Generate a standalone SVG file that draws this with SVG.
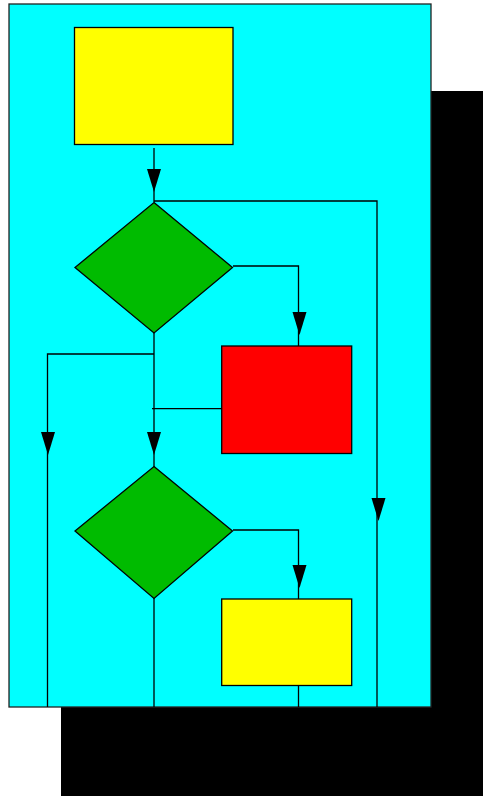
<svg xmlns="http://www.w3.org/2000/svg" xmlns:xlink="http://www.w3.org/1999/xlink" width="483" height="796" viewBox="0 0 483 796">
<style>
.node{stroke:#000;stroke-width:1.3}
.conn{fill:none;stroke:#000;stroke-width:1.3}
.arrow{fill:#000;stroke:none}
</style>
<defs>
<polygon id="ah" class="arrow" points="-7,0 7,0 0,23"/>
</defs>
<rect id="shadow" x="61" y="91" width="422" height="705" fill="#000"/>
<rect id="panel" x="9" y="4" width="422" height="703" fill="#00ffff" stroke="#222" stroke-width="1.3"/>
<g id="connectors">
<path class="conn" d="M154,148 V202"/>
<path class="conn" d="M154,201 H377 V707"/>
<path class="conn" d="M233,266 H298.5 V346"/>
<path class="conn" d="M154,333 V467"/>
<path class="conn" d="M154,354 H47.5 V707"/>
<path class="conn" d="M152,408.7 H222"/>
<path class="conn" d="M233,530 H298.5 V599"/>
<path class="conn" d="M154,598 V707"/>
<path class="conn" d="M298.5,686 V707"/>
<use xlink:href="#ah" href="#ah" x="154" y="169"/>
<use xlink:href="#ah" href="#ah" x="299.5" y="312"/>
<use xlink:href="#ah" href="#ah" x="48" y="432"/>
<use xlink:href="#ah" href="#ah" x="154" y="432"/>
<use xlink:href="#ah" href="#ah" x="299.5" y="565"/>
<use xlink:href="#ah" href="#ah" x="378.5" y="498"/>
</g>
<g id="start"><rect class="node" x="74.5" y="27.5" width="158.5" height="117" fill="#ffff00"/></g>
<g id="decision1"><polygon class="node" points="154,202.5 232.5,267.5 154,333 75,267.5" fill="#00bb00"/></g>
<g id="process1"><rect class="node" x="221.7" y="346" width="130" height="107.5" fill="#ff0000"/></g>
<g id="decision2"><polygon class="node" points="154,466.5 232.5,531 154,598.5 75,531" fill="#00bb00"/></g>
<g id="process2"><rect class="node" x="221.7" y="599" width="130" height="86.5" fill="#ffff00"/></g>
</svg>
